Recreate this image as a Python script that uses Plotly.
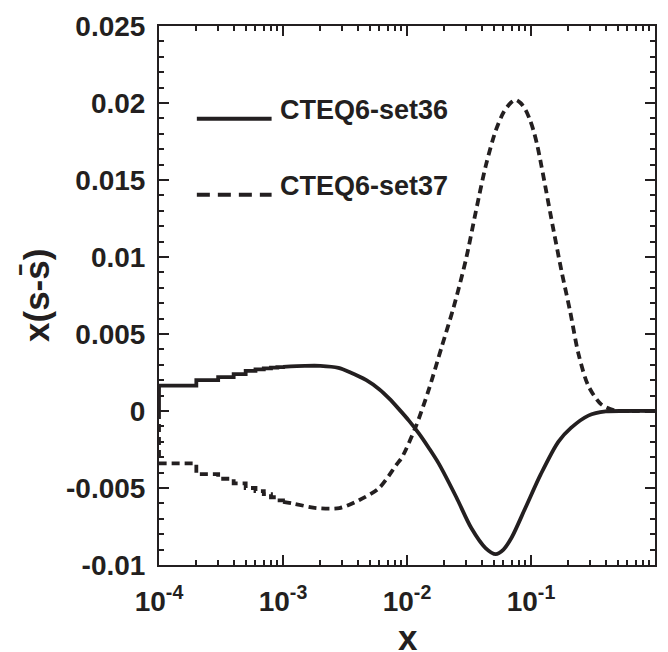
import plotly.graph_objects as go

# ---------------- data ----------------
# low-x region: tabulated on a coarse linear grid (drawn as steps)
x_low = [1e-4, 1e-4, 2e-4, 3e-4, 4e-4, 5e-4, 6e-4, 7e-4, 8e-4, 9e-4, 1e-3]
set36_low = [0.0, 0.00165, 0.0020, 0.0022, 0.0024, 0.0026, 0.0027, 0.00277, 0.00282, 0.00285, 0.00287]
set37_low = [0.0, -0.0034, -0.0041, -0.0044, -0.0047, -0.0050, -0.0052, -0.0054, -0.0056, -0.0058, -0.0059]

# higher-x region (smooth)
x_high36 = [1e-3, 1.5e-3, 2e-3, 2.8e-3, 3.5e-3, 4.7e-3, 6e-3, 7.2e-3, 8.5e-3, 1.04e-2,
            1.25e-2, 1.5e-2, 1.8e-2, 2.5e-2, 3.3e-2, 4.3e-2, 5.2e-2, 6e-2, 7e-2, 9e-2,
            0.12, 0.166, 0.21, 0.29, 0.4, 0.6, 1.0]
set36_high = [0.00287, 0.00293, 0.00293, 0.0028, 0.0025, 0.0020, 0.0014, 0.0008, 0.00017, -0.00064,
              -0.00147, -0.0024, -0.0034, -0.0056, -0.0076, -0.0089, -0.0093, -0.0090, -0.0082, -0.0063,
              -0.0041, -0.0020, -0.0011, -0.0003, -0.00003, 0.0, 0.0]

x_high37 = [1e-3, 1.19e-3, 1.86e-3, 2.85e-3, 4.1e-3, 5.96e-3, 8.2e-3, 9.12e-3, 1.18e-2, 1.5e-2,
            1.91e-2, 2.39e-2, 2.98e-2, 3.58e-2, 4.31e-2, 5.19e-2, 6.01e-2, 6.84e-2, 7.51e-2, 8.24e-2,
            9.03e-2, 9.73e-2, 0.1047, 0.1128, 0.1214, 0.1332, 0.1461, 0.1758, 0.2076, 0.2406,
            0.2897, 0.3684, 0.4772, 0.6, 1.0]
set37_high = [-0.0059, -0.0060, -0.0063, -0.0063, -0.0058, -0.0050, -0.0035, -0.0030, -0.0010, 0.0014,
              0.0042, 0.0068, 0.0098, 0.0129, 0.0159, 0.0182, 0.0194, 0.0200, 0.0202, 0.0200,
              0.01956, 0.01898, 0.01822, 0.01719, 0.01591, 0.01419, 0.01246, 0.00913, 0.0064, 0.00376,
              0.00164, 0.00043, 0.00003, 0.0, 0.0]

x_tickvals = [1e-4, 1e-3, 1e-2, 1e-1]
x_ticktext = ["10<sup>-4</sup>", "10<sup>-3</sup>", "10<sup>-2</sup>", "10<sup>-1</sup>"]
y_tickvals = [-0.01, -0.005, 0, 0.005, 0.01, 0.015, 0.02, 0.025]
y_ticktext = ["-0.01", "-0.005", "0", "0.005", "0.01", "0.015", "0.02", "0.025"]
legend_names = ["CTEQ6-set36", "CTEQ6-set37"]

# ---------------- style ----------------
INK = "#231f20"
FONT = "Liberation Sans"
LW = 3.8
DASH = "8px,5px"

fig = go.Figure()
fig.add_trace(go.Scatter(x=x_low, y=set36_low, mode="lines", line=dict(color=INK, width=LW, shape="hv"),
                         showlegend=False, hoverinfo="skip"))
fig.add_trace(go.Scatter(x=x_high36, y=set36_high, mode="lines",
                         line=dict(color=INK, width=LW, shape="spline", smoothing=0.8),
                         showlegend=False))
fig.add_trace(go.Scatter(x=x_low, y=set37_low, mode="lines",
                         line=dict(color=INK, width=LW, shape="hv", dash=DASH),
                         showlegend=False, hoverinfo="skip"))
fig.add_trace(go.Scatter(x=x_high37, y=set37_high, mode="lines",
                         line=dict(color=INK, width=LW, shape="spline", smoothing=0.8, dash=DASH),
                         showlegend=False))

axis_common = dict(showline=True, linewidth=2, linecolor=INK, mirror="allticks",
                   ticks="inside", ticklen=10, tickwidth=2, tickcolor=INK,
                   showgrid=False, zeroline=False,
                   tickfont=dict(family=FONT, size=28, color=INK, weight="bold"))

fig.update_xaxes(type="log", range=[-4, 0], tickmode="array", tickvals=x_tickvals, ticktext=x_ticktext,
                 minor=dict(ticks="inside", ticklen=5, tickwidth=1.5, tickcolor=INK, dtick="D1", showgrid=False),
                 ticklabelstandoff=10,
                 **axis_common)
fig.update_yaxes(range=[-0.01, 0.025], tickmode="array", tickvals=y_tickvals, ticktext=y_ticktext,
                 minor=dict(ticks="inside", ticklen=5, tickwidth=1.5, tickcolor=INK, dtick=0.001, showgrid=False),
                 ticklabelstandoff=6,
                 **axis_common)

# legend drawn as sample lines + text
leg_y_line = [0.828, 0.687]
leg_y_text = [0.845, 0.704]
dashes = ["solid", "13px,8px"]
for i in range(2):
    fig.add_shape(type="line", xref="paper", yref="paper", x0=0.0763, x1=0.227,
                  y0=leg_y_line[i], y1=leg_y_line[i], line=dict(color=INK, width=4, dash=dashes[i]))
    fig.add_annotation(xref="paper", yref="paper", x=0.24, y=leg_y_text[i], xanchor="left", yanchor="middle",
                       text=legend_names[i], showarrow=False,
                       font=dict(family=FONT, size=27, color=INK, weight="bold"))

# axis titles
fig.add_annotation(xref="paper", yref="paper", x=0.502, y=-0.135, xanchor="center", yanchor="middle",
                   text="x", showarrow=False, font=dict(family=FONT, size=35, color=INK, weight="bold"))
fig.add_annotation(xref="paper", yref="paper", x=-0.247, y=0.5, xanchor="center", yanchor="middle",
                   text="x(s-s\u0304)", textangle=-90, showarrow=False,
                   font=dict(family=FONT, size=35, color=INK, weight="bold"))

fig.update_layout(width=668, height=652, margin=dict(l=159, r=11, t=18, b=87),
                  plot_bgcolor="white", paper_bgcolor="white")

fig.write_html("out.html")
